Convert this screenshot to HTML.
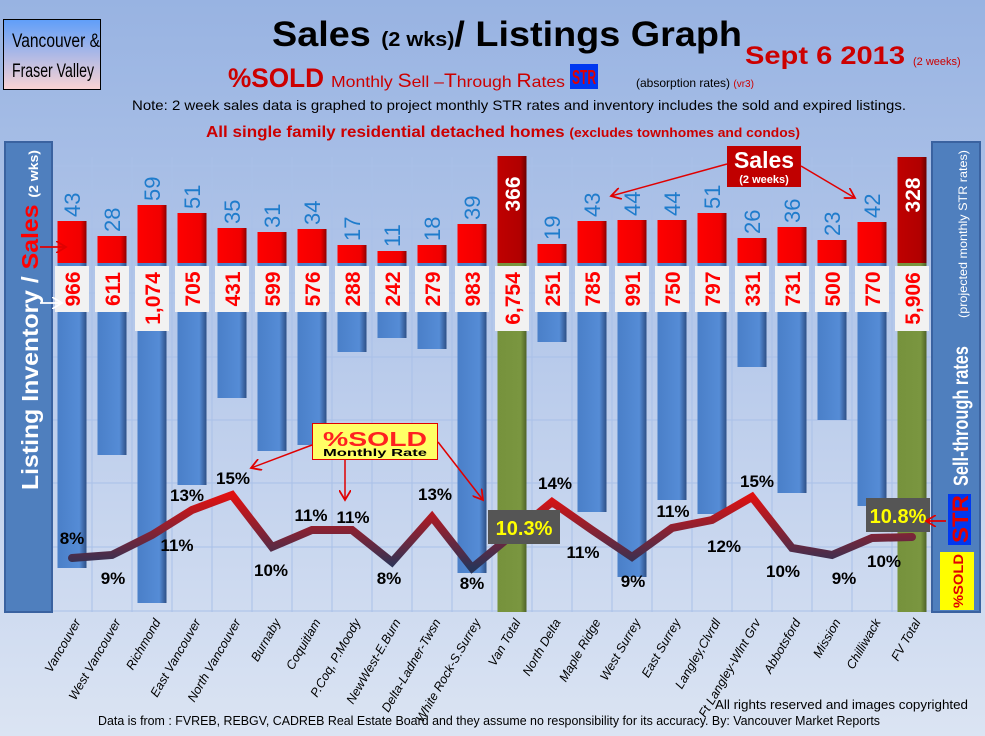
<!DOCTYPE html>
<html><head><meta charset="utf-8"><style>
html,body{margin:0;padding:0;width:985px;height:736px;overflow:hidden;font-family:"Liberation Sans",sans-serif}
</style></head><body>
<svg id="s" width="985" height="736" xmlns="http://www.w3.org/2000/svg" font-family="Liberation Sans, sans-serif">
<defs>
<linearGradient id="bg" x1="0" y1="0" x2="0" y2="1"><stop offset="0" stop-color="#98b3e2"/><stop offset="0.5" stop-color="#b9cbeb"/><stop offset="1" stop-color="#dbe4f3"/></linearGradient>
<linearGradient id="blue" x1="0" y1="0" x2="1" y2="0"><stop offset="0" stop-color="#4a7fc8"/><stop offset="0.75" stop-color="#558cd6"/><stop offset="1" stop-color="#2d4f86"/></linearGradient>
<linearGradient id="red" x1="0" y1="0" x2="1" y2="0"><stop offset="0" stop-color="#ff0000"/><stop offset="0.8" stop-color="#f00000"/><stop offset="1" stop-color="#900000"/></linearGradient>
<linearGradient id="dred" x1="0" y1="0" x2="1" y2="0"><stop offset="0" stop-color="#c00000"/><stop offset="0.8" stop-color="#b00000"/><stop offset="1" stop-color="#6a0000"/></linearGradient>
<linearGradient id="green" x1="0" y1="0" x2="1" y2="0"><stop offset="0" stop-color="#76923c"/><stop offset="0.8" stop-color="#7a9640"/><stop offset="1" stop-color="#4e6228"/></linearGradient>
<linearGradient id="ln" gradientUnits="userSpaceOnUse" x1="0" y1="495" x2="0" y2="568"><stop offset="0" stop-color="#e01010"/><stop offset="1" stop-color="#283458"/></linearGradient>
</defs>
<rect width="985" height="736" fill="url(#bg)"/>
<g id="grid"></g>
<g id="bars"></g>
<g id="ov"></g>
</svg>
<script>
var NS="http://www.w3.org/2000/svg";
function el(p,t,a,txt){var e=document.createElementNS(NS,t);for(var k in a)e.setAttribute(k,a[k]);if(txt!==undefined)e.textContent=txt;p.appendChild(e);return e;}
var s=document.getElementById('s'),g=document.getElementById('grid'),b=document.getElementById('bars'),o=document.getElementById('ov');
var names=["Vancouver","West Vancouver","Richmond","East Vancouver","North Vancouver","Burnaby","Coquitlam","P.Coq, P.Moody","NewWest-E.Burn","Delta-Ladner-Twsn","White Rock-S.Surrey","Van Total","North Delta","Maple Ridge","West Surrey","East Surrey","Langley,Clvrdl","Ft Langley-Wlnt Grv","Abbotsford","Mission","Chilliwack","FV Total"];
var sales=["43","28","59","51","35","31","34","17","11","18","39","366","19","43","44","44","51","26","36","23","42","328"];
var stop=[221,236,205,213,228,232,229,245,251,245,224,156,244,221,220,220,213,238,227,240,222,157];
var inv=["966","611","1,074","705","431","599","576","288","242","279","983","6,754","251","785","991","750","797","331","731","500","770","5,906"];
var bot=[568,455,603,485,398,451,445,352,338,349,573,612,342,512,577,500,514,367,493,420,506,612];
var ly=[558,555,535,510,495,547,530,530,562,517,568,535,502,530,557,528,520,497,548,555,538,537];
var pct=[["8%",72,544],["9%",113,584],["11%",177,551],["13%",187,501],["15%",233,484],["10%",271,576],["11%",311,521],["11%",353,523],["8%",389,584],["13%",435,500],["8%",472,589],["14%",555,489],["11%",583,558],["9%",633,587],["11%",673,517],["12%",724,552],["15%",757,487],["10%",783,577],["9%",844,584],["10%",884,567]];
for(var i=0;i<=22;i++){var x=52+40*i;el(g,'line',{x1:x,y1:157,x2:x,y2:612,stroke:'#a9c0e8','stroke-width':1});}
[166,229,293,357,420,483,547,611].forEach(function(y){el(g,'line',{x1:52,y1:y,x2:932,y2:y,stroke:'#a9c0e8','stroke-width':1});});
for(var i=0;i<22;i++){
 var c=72+40*i,x=c-14.5,tot=(i==11||i==21);
 el(b,'rect',{x:x,y:263,width:29,height:bot[i]-263,fill:tot?'url(#green)':'url(#blue)'});
 el(b,'rect',{x:x,y:stop[i],width:29,height:263-stop[i],fill:tot?'url(#dred)':'url(#red)'});
 var long=inv[i].length>3;
 el(b,'rect',{x:c-17,y:266,width:34,height:long?65:46,fill:'#f2f2f2'});
 el(b,'text',{x:0,y:0,transform:'translate('+(c+8)+','+(long?(266+32.5):(266+23))+') rotate(-90)','text-anchor':'middle','font-size':21,'font-weight':'bold',fill:'#ff0000'},inv[i]);
 if(tot) el(b,'text',{transform:'translate('+(c+8)+','+(stop[i]+4+34)+') rotate(-90)','text-anchor':'middle','font-size':21,'font-weight':'bold',fill:'#fff'},sales[i]);
 else el(b,'text',{transform:'translate('+(c+8)+','+(stop[i]-4)+') rotate(-90)','text-anchor':'start','font-size':22,fill:'#1f7ccc'},sales[i]);
 el(b,'text',{transform:'translate('+(c+9)+',622) rotate(-60)','text-anchor':'end','font-size':12.5,'font-style':'italic',fill:'#000'},names[i]);
}
var pts=ly.map(function(y,i){return (72+40*i)+','+y}).join(' ');
el(o,'polyline',{points:pts,fill:'none',stroke:'url(#ln)','stroke-width':8,'stroke-linejoin':'miter','stroke-linecap':'round'});
pct.forEach(function(p){el(o,'text',{x:p[1],y:p[2],'text-anchor':'middle','font-size':17,'font-weight':'bold',fill:'#000'},p[0]);});
</script>
<svg width="985" height="736" style="position:absolute;left:0;top:0" xmlns="http://www.w3.org/2000/svg" font-family="Liberation Sans, sans-serif">
<defs>
<linearGradient id="vb2" x1="0" y1="0" x2="0" y2="1"><stop offset="0" stop-color="#5f9ef9"/><stop offset="1" stop-color="#fbd3d3"/></linearGradient>
<marker id="ar2" markerWidth="12" markerHeight="12" refX="10" refY="6" orient="auto" markerUnits="userSpaceOnUse"><path d="M0,0 L10,6 L0,12" fill="none" stroke="#e00000" stroke-width="1.8"/></marker>
<marker id="aw2" markerWidth="12" markerHeight="12" refX="10" refY="6" orient="auto" markerUnits="userSpaceOnUse"><path d="M0,0 L10,6 L0,12" fill="none" stroke="#fff" stroke-width="1.8"/></marker>
</defs>
<rect x="3.5" y="19.5" width="97" height="70" fill="url(#vb2)" stroke="#000" stroke-width="1"/>
<text x="12" y="47" font-size="19" fill="#000" textLength="88" lengthAdjust="spacingAndGlyphs">Vancouver &amp;</text>
<text x="12" y="77" font-size="19" fill="#000" textLength="82" lengthAdjust="spacingAndGlyphs">Fraser Valley</text>
<text x="272" y="46" font-size="35" font-weight="bold" fill="#000" textLength="470" lengthAdjust="spacingAndGlyphs">Sales <tspan font-size="20">(2 wks)</tspan>/ Listings Graph</text>
<text x="745" y="64" font-size="25" font-weight="bold" fill="#cc0000" textLength="160" lengthAdjust="spacingAndGlyphs">Sept 6 2013</text>
<text x="913" y="65" font-size="11" fill="#cc0000">(2 weeks)</text>
<text x="228" y="87" font-size="27" font-weight="bold" fill="#cc0000" textLength="96" lengthAdjust="spacingAndGlyphs">%SOLD</text>
<text x="331" y="87" font-size="16" fill="#cc0000" textLength="234" lengthAdjust="spacingAndGlyphs">Monthly <tspan font-size="19">S</tspan>ell –<tspan font-size="19">T</tspan>hrough <tspan font-size="19">R</tspan>ates</text>
<rect x="570" y="64" width="28" height="25" fill="#0038f0"/>
<text x="572" y="84" font-size="20" font-weight="bold" fill="#e00000" textLength="24" lengthAdjust="spacingAndGlyphs">STR</text>
<text x="636" y="87" font-size="12" fill="#000">(absorption rates) <tspan fill="#cc0000" font-size="10">(vr3)</tspan></text>
<text x="132" y="110" font-size="14" fill="#000" textLength="774" lengthAdjust="spacingAndGlyphs">Note: 2 week sales data is graphed to project monthly STR rates and inventory includes the sold and expired listings.</text>
<text x="206" y="137" font-size="16" font-weight="bold" fill="#cc0000" textLength="594" lengthAdjust="spacingAndGlyphs">All single family residential detached homes <tspan font-size="13">(excludes townhomes and condos)</tspan></text>
<rect x="5" y="142" width="47" height="470" fill="#4f7fbe" stroke="#3a62a0" stroke-width="2"/>
<text transform="translate(38,490) rotate(-90)" font-size="23" font-weight="bold" fill="#fff" textLength="340" lengthAdjust="spacingAndGlyphs">Listing Inventory / <tspan fill="#ff0000">Sales</tspan> <tspan font-size="13">(2  wks)</tspan></text>
<line x1="40" y1="247" x2="66" y2="247" stroke="#e00000" stroke-width="1.8" marker-end="url(#ar2)"/>
<line x1="40" y1="303" x2="62" y2="303" stroke="#fff" stroke-width="1.8" marker-end="url(#aw2)"/>
<rect x="932" y="142" width="48" height="470" fill="#4f7fbe" stroke="#3a62a0" stroke-width="2"/>
<text transform="translate(968,486) rotate(-90)" font-size="21" font-weight="bold" fill="#fff" textLength="140" lengthAdjust="spacingAndGlyphs">Sell-through rates</text>
<text transform="translate(967,318) rotate(-90)" font-size="12" fill="#fff" textLength="168" lengthAdjust="spacingAndGlyphs">(projected monthly STR rates)</text>
<rect x="948" y="494" width="23" height="51" fill="#0038f0"/>
<text transform="translate(968,543) rotate(-90)" font-size="22" font-weight="bold" fill="#e00000" textLength="48" lengthAdjust="spacingAndGlyphs">STR</text>
<rect x="940" y="552" width="34" height="58" fill="#ffff00"/>
<text transform="translate(963,608) rotate(-90)" font-size="14" font-weight="bold" fill="#e00000" textLength="54" lengthAdjust="spacingAndGlyphs">%SOLD</text>
<rect x="488" y="510" width="72" height="34" fill="#555555"/>
<text x="524" y="535" font-size="20" font-weight="bold" fill="#ffff00" text-anchor="middle">10.3%</text>
<rect x="866" y="498" width="64" height="34" fill="#555555"/>
<text x="898" y="523" font-size="20" font-weight="bold" fill="#ffff00" text-anchor="middle">10.8%</text>
<line x1="946" y1="521" x2="926" y2="521" stroke="#e00000" stroke-width="1.8" marker-end="url(#ar2)"/>
<rect x="312.5" y="423.5" width="125" height="36" fill="#ffff66" stroke="#e00000" stroke-width="1"/>
<text x="375" y="446" font-size="20" font-weight="bold" fill="#ff2020" text-anchor="middle" textLength="104" lengthAdjust="spacingAndGlyphs">%SOLD</text>
<text x="375" y="456" font-size="10" font-weight="bold" fill="#000" text-anchor="middle" textLength="104" lengthAdjust="spacingAndGlyphs">Monthly Rate</text>
<line x1="312" y1="445" x2="251" y2="468" stroke="#e00000" stroke-width="1.5" marker-end="url(#ar2)"/>
<line x1="345" y1="460" x2="345" y2="500" stroke="#e00000" stroke-width="1.5" marker-end="url(#ar2)"/>
<line x1="438" y1="442" x2="483" y2="500" stroke="#e00000" stroke-width="1.5" marker-end="url(#ar2)"/>
<rect x="727" y="146" width="74" height="41" fill="#c00000"/>
<text x="764" y="168" font-size="23" font-weight="bold" fill="#fff" text-anchor="middle">Sales</text>
<text x="764" y="183" font-size="11" font-weight="bold" fill="#fff" text-anchor="middle">(2 weeks)</text>
<line x1="727" y1="164" x2="611" y2="196" stroke="#e00000" stroke-width="1.5" marker-end="url(#ar2)"/>
<line x1="801" y1="166" x2="855" y2="198" stroke="#e00000" stroke-width="1.5" marker-end="url(#ar2)"/>
<text x="715" y="709" font-size="12.5" fill="#000" textLength="253" lengthAdjust="spacingAndGlyphs">All rights reserved and  images copyrighted</text>
<text x="98" y="725" font-size="12.5" fill="#000" textLength="782" lengthAdjust="spacingAndGlyphs">Data is from : FVREB, REBGV, CADREB Real Estate Board and they assume no responsibility for its accuracy. By: Vancouver Market Reports</text>
</svg>
</body></html>
